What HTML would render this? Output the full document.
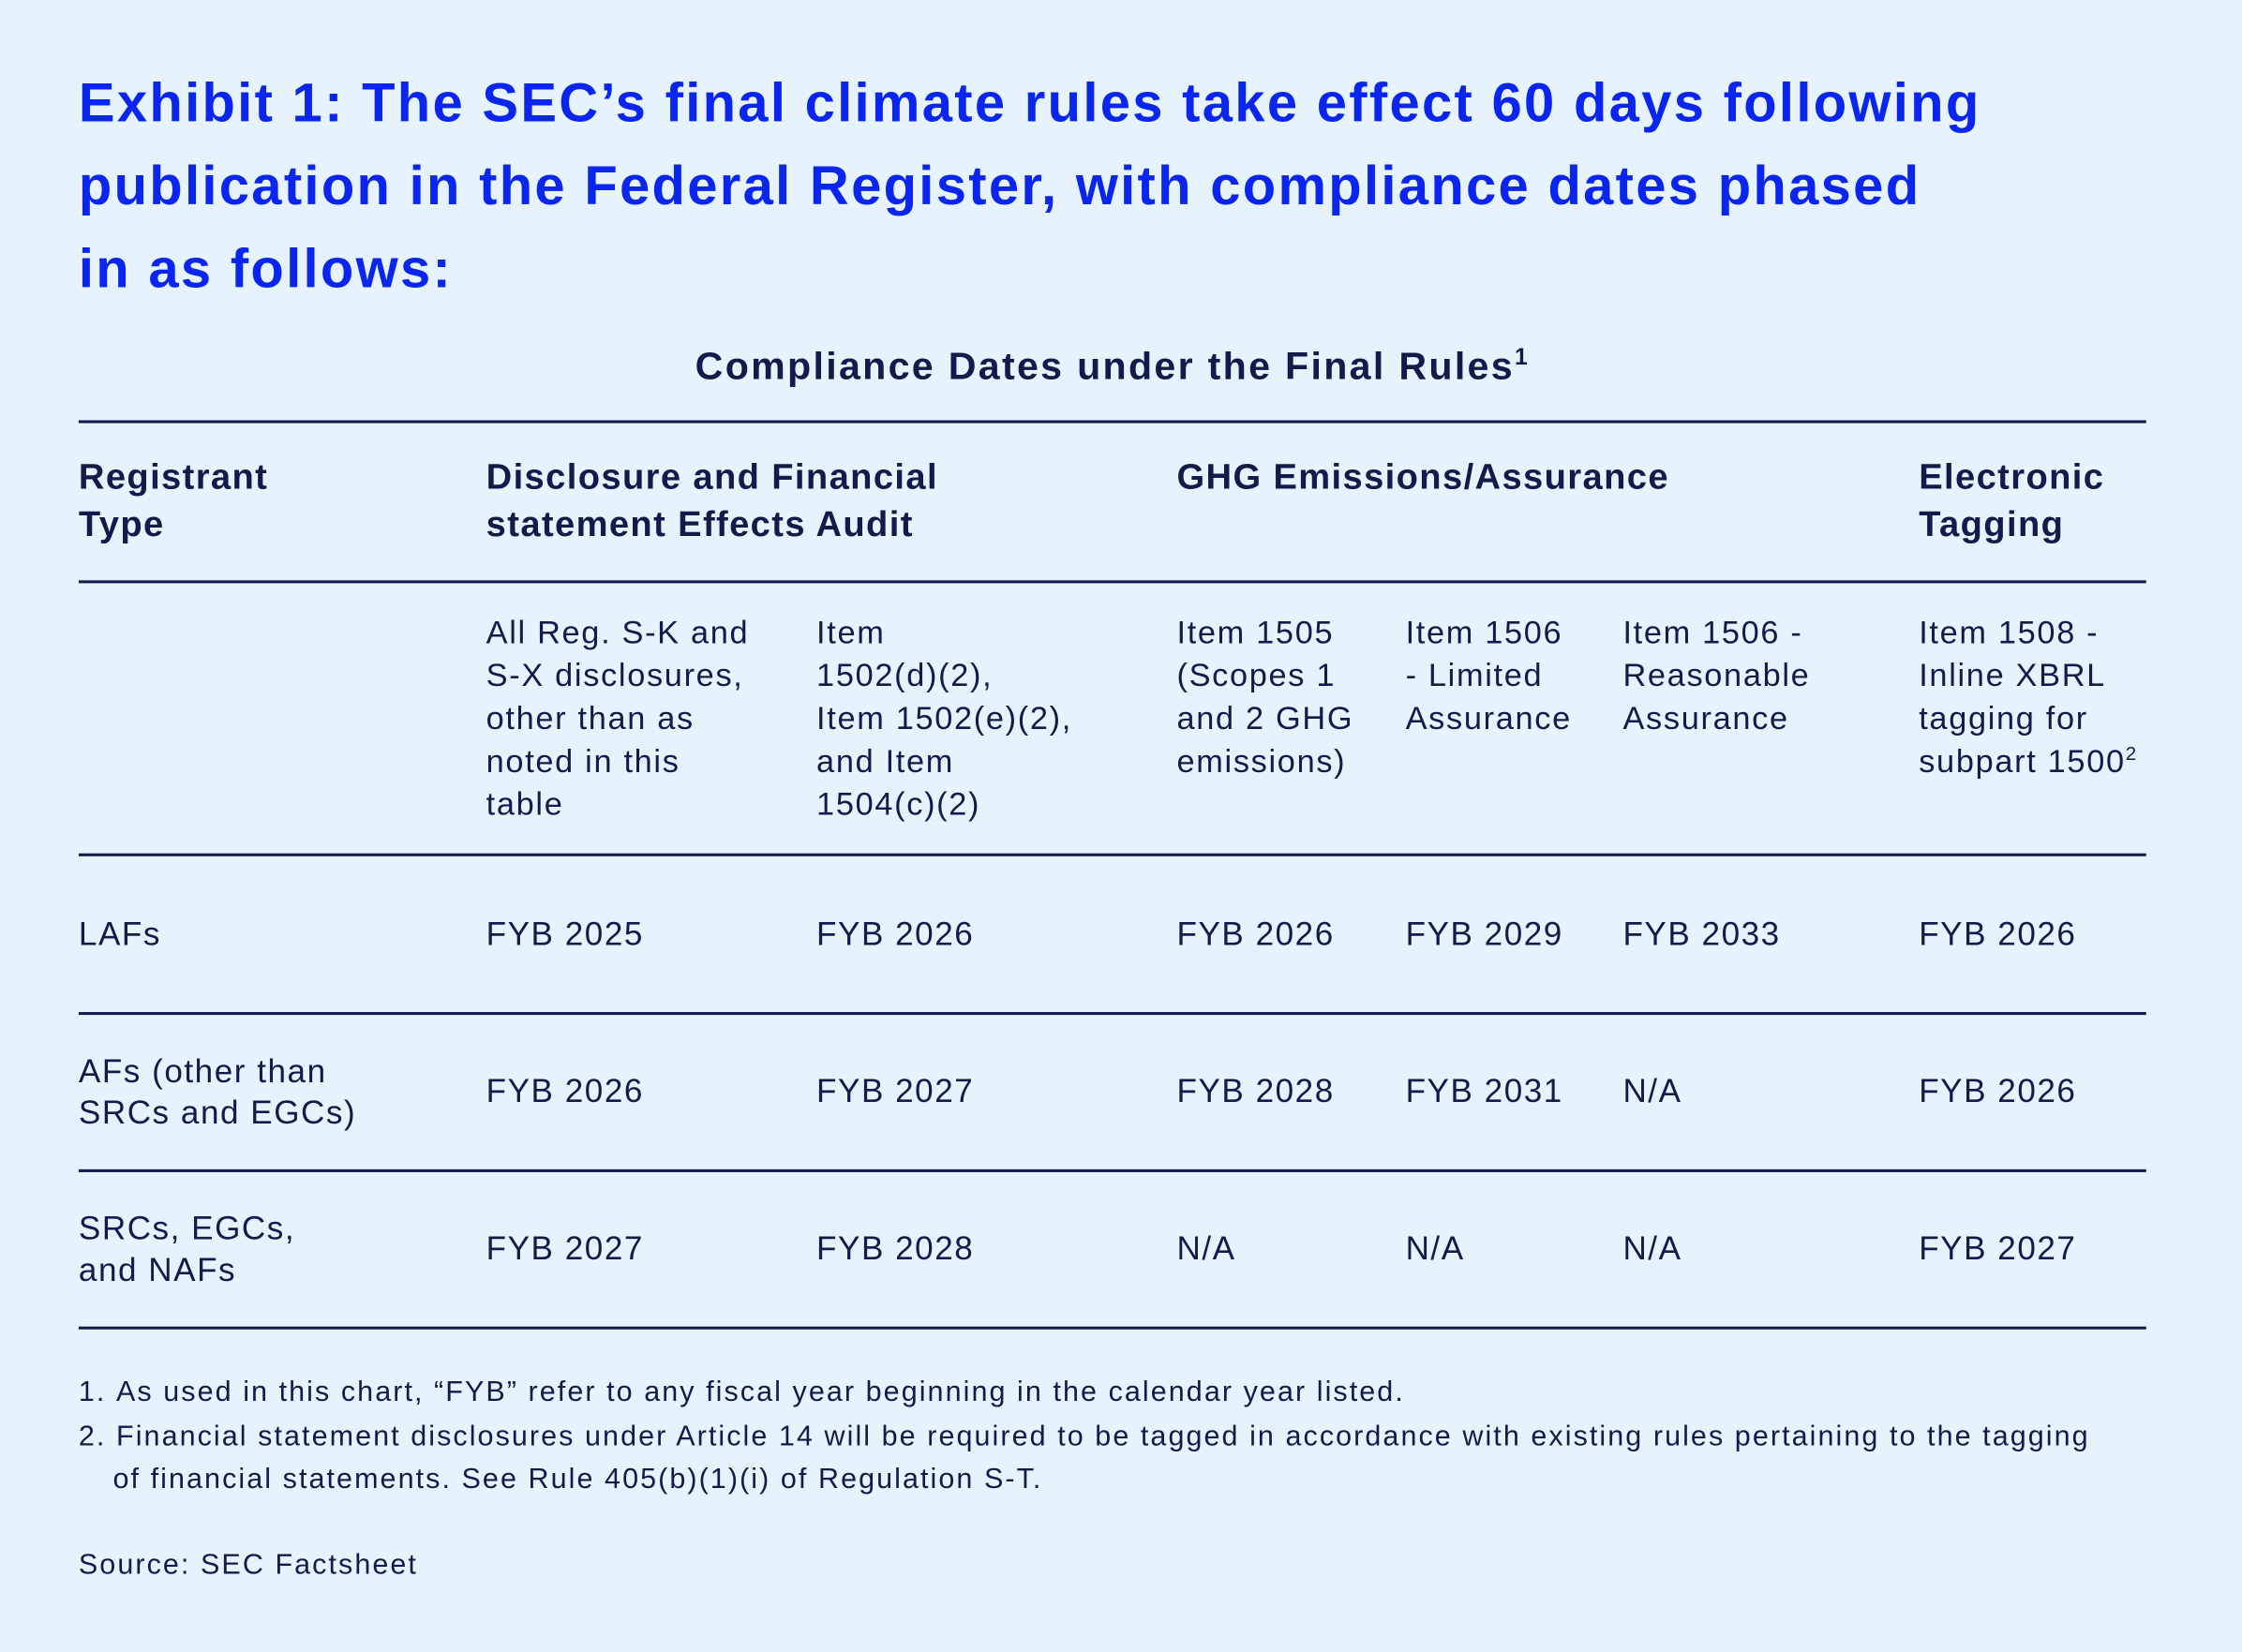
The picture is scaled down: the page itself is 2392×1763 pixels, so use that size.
<!DOCTYPE html>
<html><head><meta charset="utf-8"><style>
html,body{margin:0;padding:0;background:#e6f3fc;}
body{width:2392px;height:1763px;overflow:hidden;}
#w{position:absolute;left:0;top:0;width:1568px;height:1156px;transform:scale(1.5255);transform-origin:0 0;font-family:"Liberation Sans",sans-serif;color:#141a4a;}
.a{position:absolute;white-space:nowrap;}
.t{color:#0a26ee;font-weight:bold;font-size:38px;letter-spacing:1.5px;line-height:58px;left:55px;top:44px;}
.st{font-weight:bold;font-size:27px;letter-spacing:1.5px;left:0;width:1556px;text-align:center;top:241px;}
.h{font-weight:bold;font-size:25px;letter-spacing:0.9px;line-height:33px;top:318px;}
.s{font-size:22.5px;letter-spacing:1.1px;line-height:30px;top:428px;}
.c{font-size:23px;letter-spacing:1px;line-height:29px;}
.ln{position:absolute;left:55px;width:1446px;height:1.5px;background:#141a4a;}
.f{font-size:20px;letter-spacing:1.35px;line-height:30px;}
sup{font-size:60%;vertical-align:super;line-height:0;}
</style></head><body><div id="w">
<div class="a t">Exhibit 1: The SEC’s final climate rules take effect 60 days following<br>publication in the Federal Register, with compliance dates phased<br>in as follows:</div>
<div class="a st">Compliance Dates under the Final Rules<sup>1</sup></div>
<div class="ln" style="top:294px"></div>
<div class="a h" style="left:55px">Registrant<br>Type</div>
<div class="a h" style="left:340px">Disclosure and Financial<br>statement Effects Audit</div>
<div class="a h" style="left:823px">GHG Emissions/Assurance</div>
<div class="a h" style="left:1342px">Electronic<br>Tagging</div>
<div class="ln" style="top:406px"></div>
<div class="a s" style="left:340px">All Reg. S-K and<br>S-X disclosures,<br>other than as<br>noted in this<br>table</div>
<div class="a s" style="left:571px">Item<br>1502(d)(2),<br>Item 1502(e)(2),<br>and Item<br>1504(c)(2)</div>
<div class="a s" style="left:823px">Item 1505<br>(Scopes 1<br>and 2 GHG<br>emissions)</div>
<div class="a s" style="left:983px">Item 1506<br>- Limited<br>Assurance</div>
<div class="a s" style="left:1135px">Item 1506 -<br>Reasonable<br>Assurance</div>
<div class="a s" style="left:1342px">Item 1508 -<br>Inline XBRL<br>tagging for<br>subpart 1500<sup>2</sup></div>
<div class="ln" style="top:597px"></div>
<div class="a c" style="left:55px;top:639px">LAFs</div>
<div class="a c" style="left:340px;top:639px">FYB 2025</div>
<div class="a c" style="left:571px;top:639px">FYB 2026</div>
<div class="a c" style="left:823px;top:639px">FYB 2026</div>
<div class="a c" style="left:983px;top:639px">FYB 2029</div>
<div class="a c" style="left:1135px;top:639px">FYB 2033</div>
<div class="a c" style="left:1342px;top:639px">FYB 2026</div>
<div class="ln" style="top:708px"></div>
<div class="a c" style="left:55px;top:735px">AFs (other than<br>SRCs and EGCs)</div>
<div class="a c" style="left:340px;top:749px">FYB 2026</div>
<div class="a c" style="left:571px;top:749px">FYB 2027</div>
<div class="a c" style="left:823px;top:749px">FYB 2028</div>
<div class="a c" style="left:983px;top:749px">FYB 2031</div>
<div class="a c" style="left:1135px;top:749px">N/A</div>
<div class="a c" style="left:1342px;top:749px">FYB 2026</div>
<div class="ln" style="top:818px"></div>
<div class="a c" style="left:55px;top:845px">SRCs, EGCs,<br>and NAFs</div>
<div class="a c" style="left:340px;top:859px">FYB 2027</div>
<div class="a c" style="left:571px;top:859px">FYB 2028</div>
<div class="a c" style="left:823px;top:859px">N/A</div>
<div class="a c" style="left:983px;top:859px">N/A</div>
<div class="a c" style="left:1135px;top:859px">N/A</div>
<div class="a c" style="left:1342px;top:859px">FYB 2027</div>
<div class="ln" style="top:928px"></div>
<div class="a f" style="left:55px;top:959px">1.&nbsp;As used in this chart, “FYB” refer to any fiscal year beginning in the calendar year listed.</div>
<div class="a f" style="left:55px;top:990px">2.&nbsp;Financial statement disclosures under Article 14 will be required to be tagged in accordance with existing rules pertaining to the tagging</div>
<div class="a f" style="left:79px;top:1020px">of financial statements. See Rule 405(b)(1)(i) of Regulation S-T.</div>
<div class="a f" style="left:55px;top:1080px">Source: SEC Factsheet</div>
</div></body></html>
